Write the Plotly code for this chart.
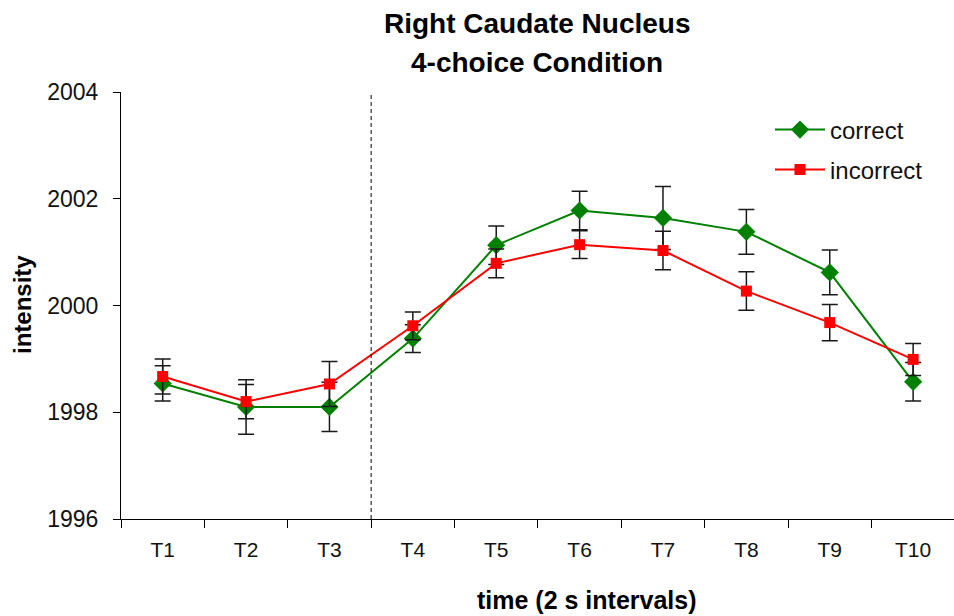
import plotly.graph_objects as go

categories = ["T1", "T2", "T3", "T4", "T5", "T6", "T7", "T8", "T9", "T10"]
correct = [1998.54, 1998.10, 1998.10, 1999.38, 2001.13, 2001.78, 2001.64, 2001.38, 2000.62, 1998.57]
correct_err = [0.33, 0.51, 0.46, 0.26, 0.36, 0.36, 0.59, 0.42, 0.42, 0.36]
incorrect = [1998.67, 1998.20, 1998.53, 1999.62, 2000.79, 2001.14, 2001.03, 2000.27, 1999.68, 1998.99]
incorrect_err = [0.33, 0.32, 0.42, 0.26, 0.27, 0.26, 0.36, 0.36, 0.34, 0.30]
y_ticks = [1996, 1998, 2000, 2002, 2004]
stim_boundary = 2.5  # between T3 and T4

FONT = "Liberation Sans, Arial, sans-serif"
W, H = 954, 616
L, R, T, B = 121, 0, 92, 97
PW, PH = W - L - R, H - T - B


def px(x):
    return (x - L) / PW


def py(y):
    return (H - B - y) / PH


fig = go.Figure()
fig.add_trace(go.Scatter(
    x=categories, y=correct, name="correct", mode="lines+markers",
    line=dict(color="#008000", width=2),
    marker=dict(symbol="diamond", size=14, color="#008000"),
    error_y=dict(type="data", array=correct_err, visible=True,
                 color="#1a1a1a", thickness=1.5, width=8),
    legend="legend", showlegend=True,
))
fig.add_trace(go.Scatter(
    x=categories, y=incorrect, name="incorrect", mode="lines+markers",
    line=dict(color="#FF0000", width=2),
    marker=dict(symbol="square", size=11, color="#FF0000"),
    error_y=dict(type="data", array=incorrect_err, visible=True,
                 color="#1a1a1a", thickness=1.5, width=8),
    legend="legend2", showlegend=True,
))

fig.add_shape(type="line", xref="x", yref="y",
              x0=stim_boundary, x1=stim_boundary, y0=y_ticks[0], y1=y_ticks[-1],
              line=dict(color="black", width=1, dash="4px,3px"))

fig.add_annotation(text="<b>Right Caudate Nucleus</b>", xref="paper", yref="paper",
                   x=px(537), y=py(23), xanchor="center", yanchor="middle",
                   showarrow=False, font=dict(family=FONT, size=28, color="black"))
fig.add_annotation(text="<b>4-choice Condition</b>", xref="paper", yref="paper",
                   x=px(537), y=py(63), xanchor="center", yanchor="middle",
                   showarrow=False, font=dict(family=FONT, size=28, color="black"))
fig.add_annotation(text="<b>time (2 s intervals)</b>", xref="paper", yref="paper",
                   x=px(587), y=py(600), xanchor="center", yanchor="middle",
                   showarrow=False, font=dict(family=FONT, size=25, color="black"))
fig.add_annotation(text="<b>intensity</b>", xref="paper", yref="paper",
                   x=px(22), y=py(305), xanchor="center", yanchor="middle",
                   textangle=-90, showarrow=False,
                   font=dict(family=FONT, size=24, color="black"))

legend_style = dict(xanchor="left", yanchor="middle", bgcolor="rgba(0,0,0,0)",
                    itemwidth=50, font=dict(size=24, color="#111111"))
fig.update_layout(
    width=W, height=H,
    margin=dict(l=L, r=R, t=T, b=B, autoexpand=False),
    paper_bgcolor="white", plot_bgcolor="white",
    showlegend=True,
    font=dict(family=FONT, color="black"),
    legend=dict(x=px(770), y=py(130), **legend_style),
    legend2=dict(x=px(770), y=py(170), **legend_style),
)
fig.update_xaxes(type="category", range=[-0.5, 9.49], tickson="boundaries",
                 ticks="outside", ticklen=8, tickcolor="black",
                 showline=True, linecolor="black", linewidth=1,
                 showgrid=False, zeroline=False,
                 tickfont=dict(size=21, color="#111111"), ticklabelstandoff=12)
fig.update_yaxes(range=[y_ticks[0], y_ticks[-1]], tickvals=y_ticks,
                 ticks="outside", ticklen=7, tickcolor="black",
                 showline=True, linecolor="black", linewidth=1,
                 showgrid=False, zeroline=False,
                 tickfont=dict(size=23, color="#111111"), ticklabelstandoff=10)

fig.write_html("out.html")
